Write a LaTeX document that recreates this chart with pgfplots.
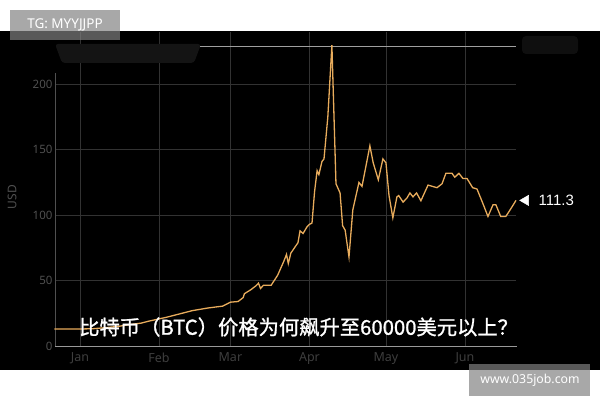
\documentclass[border=0pt]{standalone}
\usepackage{pgfplots}
\pgfplotsset{compat=1.18}
\usepackage{fontspec}
\setmainfont{Noto Sans}
\newfontfamily\cjk[FakeBold=1.2]{Noto Sans CJK SC}
\newfontfamily\arial{Liberation Sans}
\definecolor{btc}{RGB}{232,172,92}
\definecolor{gridc}{RGB}{50,50,50}
\definecolor{tickc}{RGB}{80,80,80}
\definecolor{monc}{RGB}{62,62,62}
\definecolor{boxc}{RGB}{129,129,129}
\begin{document}
\begin{tikzpicture}[x=1pt,y=1pt]
\useasboundingbox (0pt,0pt) rectangle (600pt,400pt);
\fill[white] (0pt,0pt) rectangle (600pt,400pt);
\fill[black] (0pt,30pt) rectangle (600pt,369pt);
\begin{axis}[
  at={(56pt,54pt)}, anchor=south west, scale only axis,
  width=460pt, height=314pt,
  xmin=-9.4, xmax=171, ymin=0, ymax=240,
  axis line style={draw=none}, tick style={draw=none},
  xtick={0,31,59,90,120,151},
  xticklabels={Jan,Feb,Mar,Apr,May,Jun},
  ytick={0,50,100,150,200},
  grid=major, major grid style={gridc, line width=0.6pt},
  xticklabel style={font=\fontsize{12.5}{12}\selectfont, text=monc, yshift=-3pt},
  yticklabel style={font=\fontsize{11.5}{12}\selectfont, text=tickc},
  /pgf/number format/assume math mode=true,
  clip=false,
]
\draw[gray!75, line width=0.8pt] (axis cs:-9.4,229) -- (axis cs:171,229);
\draw[tickc, line width=0.8pt] (axis cs:-9.8,0) -- (axis cs:-9.8,209);
\draw[gray!80, line width=1pt] (axis cs:-9.8,0) -- (axis cs:171.5,0);
\addplot[btc, line width=1.3pt] coordinates {
(-10,13) (0,13) (5,13.2) (10,14) (15,15) (20,16.5) (24,17.5) (27,19) (34,22)
(40,25) (44,27) (50,29) (56,30.5) (59,33.5) (62,34) (64,37) (64.5,40) (67,43)
(69,46) (70,48) (70.8,44) (72,46.5) (75,46.5) (77.5,54) (80,65) (81,70) (81.7,63)
(82.7,71) (85.5,79) (86.3,88) (87.5,86) (89,91) (90,93) (91,94) (92,118) (93,134)
(93.7,131) (94.9,141) (95.7,143) (97.2,175) (98.8,230) (100.4,124) (102,117)
(103,92) (104,88.5) (105.5,68) (107,104) (109.4,125) (110.6,122) (113.7,153)
(115,140) (117,127) (118.8,143) (120,140) (121.2,115) (122.7,98) (124.3,114)
(125,115) (126.7,110) (128.2,113) (129.4,117) (130.6,114) (132,117) (133.7,111)
(136.5,123) (140,121) (142,124) (143.5,132) (145.9,132) (147,129) (148.6,132)
(150.2,128) (151.8,128) (154,121) (155.7,120) (158,109) (160,99) (162,108)
(163.1,108) (165,99) (167,99) (169,105) (171,111.3)
};
\addplot[only marks, mark=triangle*, mark size=6pt, mark options={rotate=90, fill=white, draw=white}] coordinates {(174.8,111.3)};
\node[anchor=west, text=white, font=\arial\fontsize{15}{15}\selectfont] at (axis cs:178.5,111.3) {111.3};
\end{axis}
% blurred title remnants
\fill[black!92, rounded corners=3pt] (55pt,356pt) -- (201pt,356pt) -- (194pt,337pt) -- (62pt,337pt) -- cycle;
\fill[black!94, rounded corners=4pt] (522pt,346pt) rectangle (578pt,364pt);
\node[rotate=90, text=tickc, font=\fontsize{12}{12}\selectfont] at (12pt,203pt) {USD};
\node[anchor=west, text=white, font=\cjk\fontsize{20.3}{20}\selectfont, inner sep=0pt] at (79pt,73pt) {比特币（BTC）价格为何飙升至60000美元以上？};
% watermark labels
\fill[boxc, fill opacity=0.69] (10pt,360pt) rectangle (120pt,390pt);
\node[text=white, font=\fontsize{13.5}{14}\selectfont] at (65pt,375pt) {TG: MYYJJPP};
\fill[boxc, fill opacity=0.69] (469pt,4pt) rectangle (590pt,36pt);
\node[text=white, font=\fontsize{12.3}{13}\selectfont] at (530pt,20pt) {www.035job.com};
\end{tikzpicture}
\end{document}
